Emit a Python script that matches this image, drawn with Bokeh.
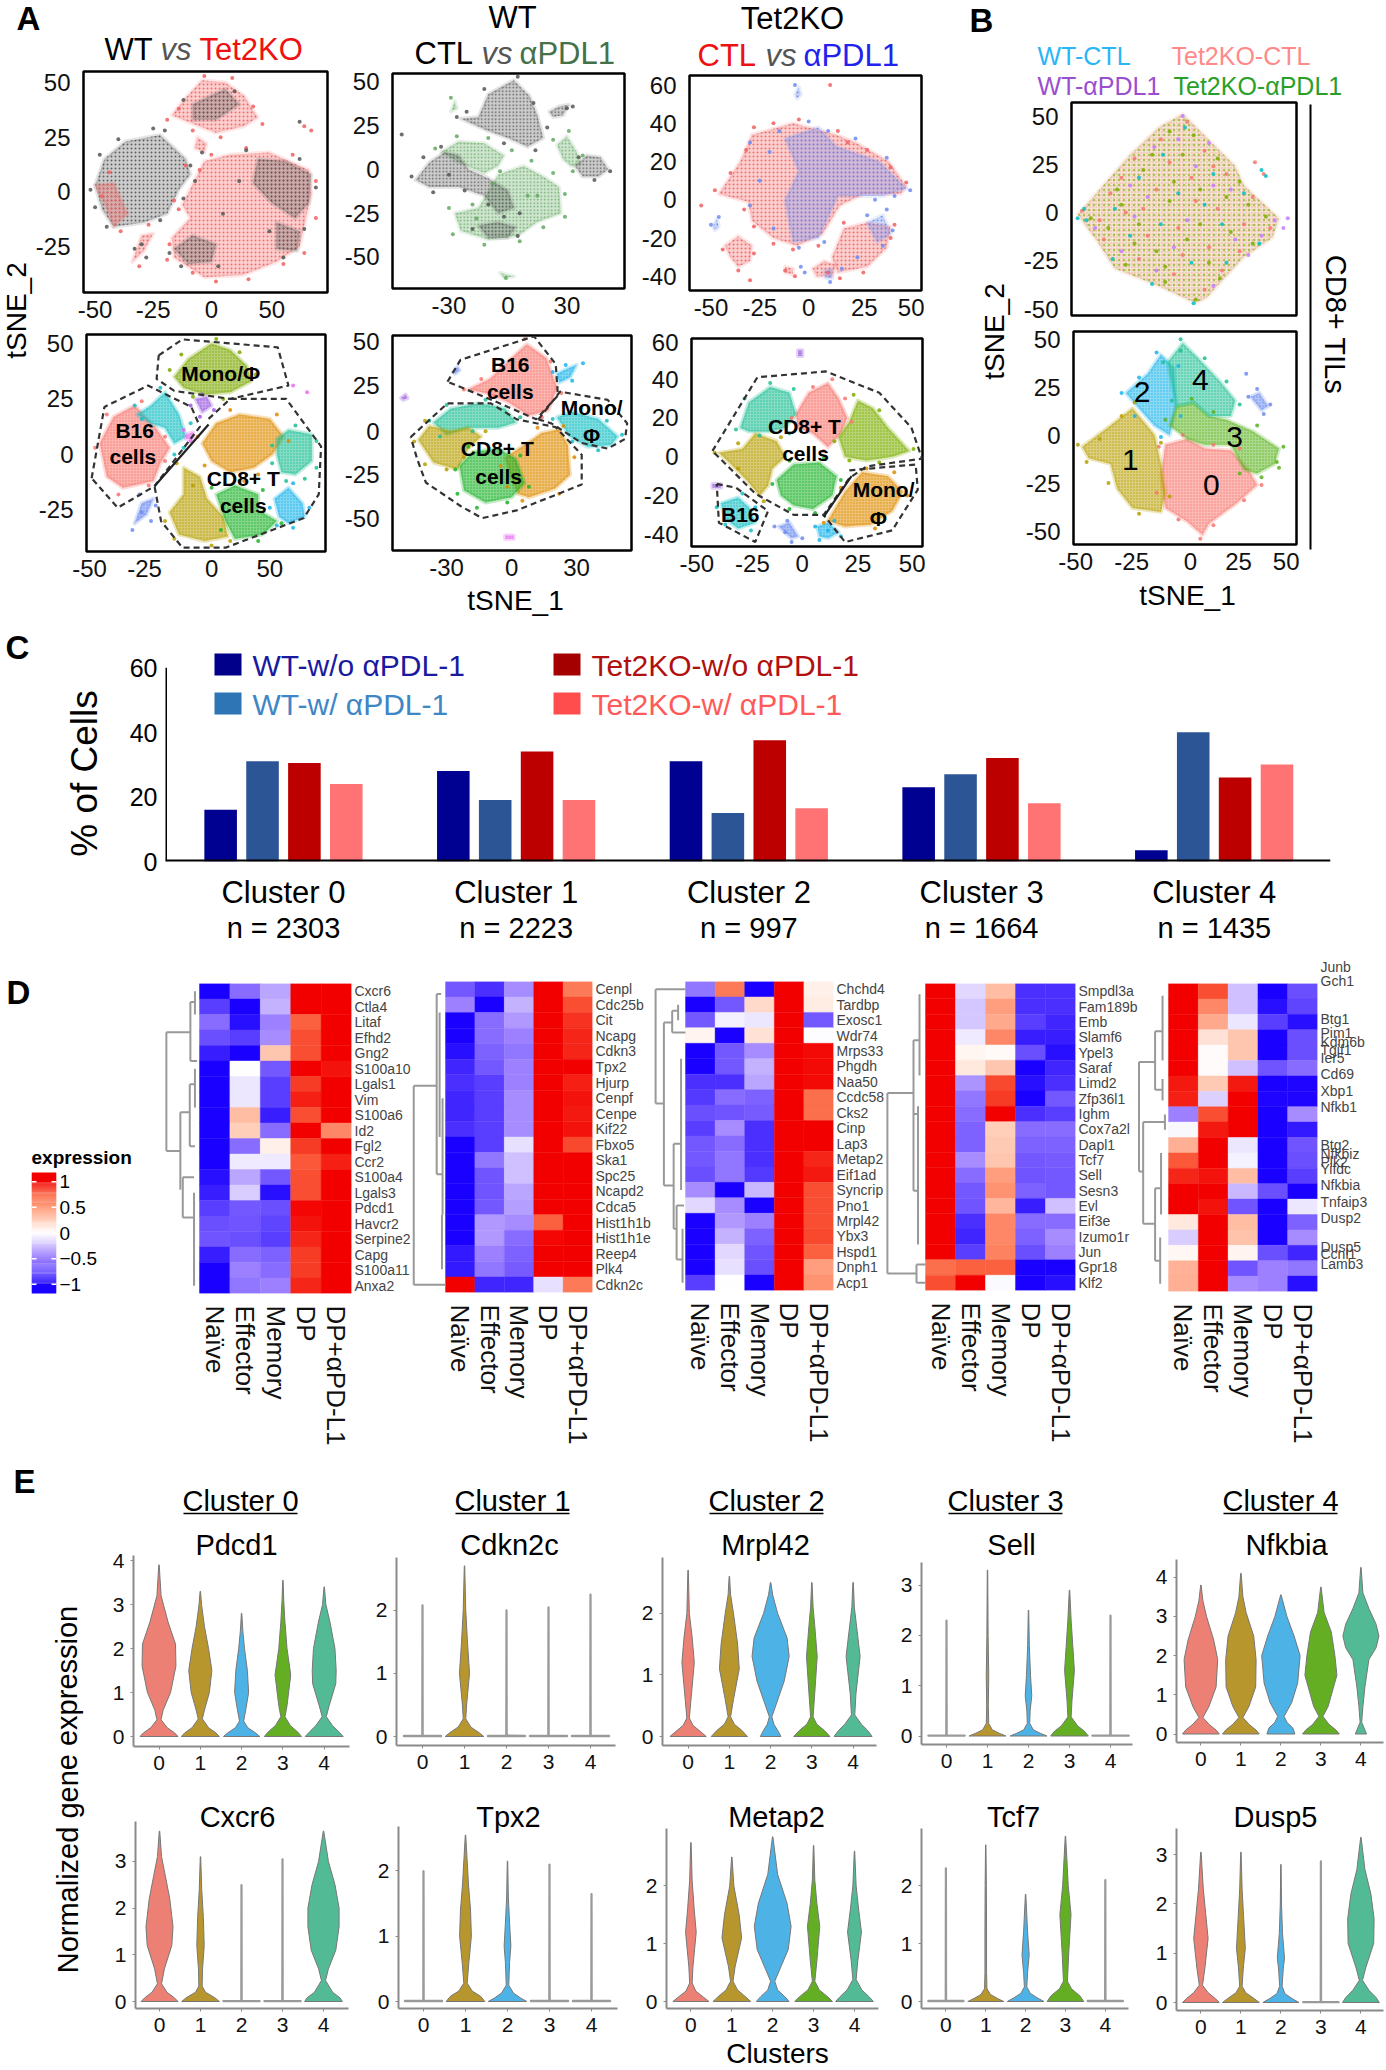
from bokeh.plotting import figure
from bokeh.models import Range1d, FixedTicker, LinearColorMapper, Column
from bokeh.core.properties import value
from bokeh.transform import transform
from bokeh.embed import file_html
from bokeh.resources import INLINE

FONT = "Liberation Sans"

# ---------- Panel A/B tSNE regions (tSNE units) ----------
A1_top = [(-17,35),(-11,43),(-4,51),(6,50),(14,44),(20,34),(14,30),(2,27),(-10,32)]
A1_left = [(-50,3),(-46,15),(-37,23),(-22,26),(-11,15),(-9,8),(-14,1),(-19,-10),(-29,-14),(-42,-16),(-47,-8)]
A1_main = [(-12.5,-6),(-3,14),(8,17),(25,18),(42,10),(43,-1),(38,-25),(28,-32),(13.6,-38),(-3,-39),(-16,-30),(-17,-21),(-9,-12)]
A1_g1 = [(20,15),(32,14),(43,8),(42,-5),(36,-12),(26,-5),(18,4)]
A1_g2 = [(-16,-26),(-8,-20),(2,-24),(0,-32),(-10,-33)]
A1_g3 = [(28,-14),(38,-18),(37,-27),(28,-26)]
A1_g4 = [(-8,40),(6,47),(12,40),(2,33),(-8,33)]
A1_r1 = [(-34,-32),(-30,-20),(-25,-19),(-29,-27)]
A1_r2 = [(-6,25),(-2,22),(-3,18),(-7,20)]
A1_r3 = [(-50,3),(-46,-5),(-42,-16),(-36,-10),(-42,4)]
A1_pts_red = [(-14,38),(-19,33),(-3,53),(9,52),(18,39),(22,31),(4,25),(-8,28),(-14,-8),(-18,-24),(-19,-31),(-8,-37),(2,-41),(16,-40),(31,-33),(40,-28),(45,-12),(45,5),(35,17),(15,20),(0,17),(-5,10),(-47,-2),(-44,9),(-39,-18),(-31,-34),(-27,-15),(-16,-4),(40,30),(43,28),(-11,12)]
A1_pts_grey = [(-52,1),(-48,17),(-40,24),(-25,29),(-20,28),(-9,12),(-7,5),(-12,-3),(-22,-13),(-45,-16),(-50,-7),(-33,-26),(-28,-30),(-30,-24),(-4,18),(15,19),(38,15),(45,2),(40,-17),(31,-30),(-13,-34),(-18,-28),(3,-34),(-12,42),(10,46),(38,32),(5,-10),(12,5),(25,-18)]

A2_b1 = [(-24,29),(-15,30),(-10,43),(3,51),(11,42),(15,31),(18,18),(10,13),(0,18),(-10,22),(-18,26)]
A2_g1 = [(-5,-3),(8,2),(18,-4),(26,-10),(27,-25),(15,-30),(5,-38),(-10,-40),(-24,-35),(-27,-25),(-15,-22)]
A2_g2 = [(-34,10),(-25,16),(-12,15),(-2,8),(-5,2),(-12,-2),(-25,4)]
A2_b2 = [(-47,-6),(-40,4),(-32,10),(-25,8),(-20,0),(-10,-5),(0,-12),(3,-22),(-5,-25),(-12,-15),(-25,-10),(-40,-10)]
A2_b3 = [(-15,-32),(-5,-30),(4,-33),(0,-39),(-10,-39)]
A2_g3 = [(25,14),(30,19),(35,10),(37,3),(32,2),(28,6)]
A2_b4 = [(34,2),(40,8),(47,7),(51,0),(46,-4),(38,-4)]
A2_b5 = [(21,33),(26,36),(31,37),(28,31),(23,30)]
A2_g4 = [(-29,33),(-27,39),(-26,35)]
A2_g5 = [(-4,-59),(-1,-60),(3,-61),(-2,-62)]
A2_pts_grey = [(-26,30),(-21,33),(-12,46),(5,53),(13,38),(20,24),(14,11),(-2,15),(30,35),(33,36),(-49,-4),(-43,7),(-34,13),(-22,-12),(-38,-13),(-2,-27),(6,-25),(-18,-34),(5,-38),(36,7),(52,-1),(44,-6),(-54,20),(-10,-20),(-30,-3)]
A2_pts_green = [(-37,12),(-26,19),(-10,18),(2,11),(-4,-1),(12,5),(23,-2),(29,-14),(29,-27),(18,-33),(6,-41),(-12,-43),(-28,-37),(-30,-22),(-18,-20),(23,17),(31,22),(38,8),(33,-1),(10,-15),(-8,-8),(-29,41),(-1,-62),(-16,-28),(15,-15)]

A3_main = [(-46,3),(-35,20),(-29,34),(-8,40),(14,34),(24,30),(41,20),(50,7),(47,3),(28,3),(16,-3),(7,-18),(-6,-24),(-18,-20),(-29,-11),(-31,-1)]
A3_b1 = [(-12,32),(5,38),(14,28),(36,20),(50,6),(38,2),(15,2),(5,-20),(-8,-22),(-12,0),(-5,15)]
A3_r1 = [(12,-30),(18,-15),(30,-12),(42,-14),(40,-25),(30,-35),(15,-38)]
A3_b2 = [(30,-12),(38,-8),(42,-18),(35,-22)]
A3_r2 = [(-43,-24),(-36,-19),(-29,-24),(-30,-32),(-36,-35),(-40,-30)]
A3_r3 = [(2,-36),(8,-32),(14,-34),(12,-40),(4,-40)]
A3_b3 = [(8,-37),(12,-36),(12,-41),(9,-41)]
A3_b4 = [(-7,55),(-5,59),(-4,55),(-6,53)]
A3_b5 = [(-49,-14),(-47,-10),(-46,-14),(-48,-16)]
A3_r4 = [(-12,-35),(-8,-36),(-8,-39),(-12,-38)]
A3_pts_red = [(-48,5),(-40,14),(-32,26),(-28,38),(-18,40),(-5,42),(15,36),(-33,-5),(-28,-14),(-18,-23),(-8,-26),(5,-24),(20,30),(30,26),(42,17),(50,9),(10,-38),(16,-41),(28,-38),(42,-20),(44,-13),(18,-12),(-44,-26),(-36,-37),(-28,-28),(-12,-37),(-7,-40),(11,60),(-55,-3),(-30,-42)]
A3_pts_blue = [(-30,30),(-15,36),(0,41),(10,36),(24,32),(40,22),(52,5),(44,2),(34,0),(-25,10),(-30,-3),(-18,-15),(-5,-25),(8,-22),(-20,25),(30,-8),(40,-5),(43,-16),(38,-24),(25,-30),(17,-36),(11,-43),(-7,60),(-50,-13),(-46,-9),(-2,-38),(-4,-35)]

A4_mono = [(-16,35),(-10,43),(0,50),(8,47),(15,40),(17,33),(8,28),(-3,27),(-12,30)]
A4_b16 = [(-48,5),(-42,17),(-33,22),(-24,12),(-18,3),(-22,-4),(-25,-12),(-38,-15),(-45,-10)]
A4_teal = [(-26,22),(-20,28),(-14,18),(-11,8),(-16,5),(-20,12),(-26,14),(-32,18)]
A4_orange = [(-4,5),(2,14),(12,18),(25,16),(31,8),(26,0),(18,-6),(8,-8),(0,-3)]
A4_tgreen = [(28,7),(33,11),(43,9),(43,-3),(36,-9),(30,-8),(28,0)]
A4_gold = [(-12,-6),(-5,-10),(-2,-20),(5,-28),(7,-37),(-3,-39),(-14,-36),(-18,-26),(-12,-18)]
A4_green = [(2,-18),(10,-14),(20,-18),(20,-25),(28,-30),(22,-36),(10,-38),(6,-30)]
A4_blue = [(27,-20),(33,-15),(39,-22),(40,-28),(33,-31),(29,-28)]
A4_peri = [(-33,-31),(-30,-22),(-25,-20),(-28,-27)]
A4_purple = [(-7,25),(-2,26),(0,22),(-4,19)]
A4_mag = [(-11,9),(-8,10),(-8,7),(-11,7)]
A4_pts_mono = [(-18,38),(-13,45),(2,52),(12,46),(19,36),(5,25),(-8,26)]
A4_pts_b16 = [(-50,3),(-45,18),(-30,24),(-20,8),(-27,-14),(-40,-18),(-20,-3)]
A4_pts_teal = [(-33,22),(-22,30),(-9,14),(-12,3),(-30,16),(-16,0)]
A4_pts_orange = [(-6,8),(8,20),(28,18),(33,6),(20,-9),(-3,-5),(14,-12)]
A4_pts_tgreen = [(26,4),(36,13),(45,6),(45,-6),(32,-12),(26,-4),(40,-11)]
A4_pts_gold = [(-15,-4),(-20,-30),(-16,-38),(0,-41),(8,-39),(-8,-14)]
A4_pts_green = [(0,-15),(12,-12),(22,-16),(30,-31),(20,-39),(4,-34)]
A4_pts_blue = [(25,-24),(35,-13),(42,-24),(35,-33),(28,-32)]
A4_pts_peri = [(-34,-34),(-31,-18),(-24,-23),(-26,-30),(-30,-26)]
A4_pts_purple = [(-9,22),(-4,27),(1,20),(-5,17)]
A4_pts_mag = [(35,31),(41,28),(-12,11),(-9,6)]
A4_dash_mono = [(-22.7,44.6),(-12.5,51.8),(28.4,48.2),(33,31),(8,25),(-16,28.6),(-23.6,34),(-22.7,44.6)]
A4_dash_b16 = [(-51.5,-10.7),(-46,21.4),(-27.3,31),(-8.7,21.4),(-5,12.5),(-24.5,-14.3),(-40.3,-24),(-51.5,-10.7)]
A4_dash_cd8 = [(-1.3,16),(8,25),(32,25),(47,3.6),(46,-18),(39.6,-28.6),(6,-42),(-12.5,-42),(-21.7,-30),(-24.5,-14.3)]
A4_solid = [(-24.5,-14.3),(-1.3,13.5)]

A5_b16 = [(-20,24),(-10,30),(0,42),(7,50),(16,42),(21,25),(17,12),(8,9),(-2,17),(-12,22)]
A5_blue = [(21,33),(26,36),(30,38),(27,31),(22,28)]
A5_mono = [(21,8),(28,11),(40,7),(49,-3),(46,-8),(35,-9),(27,-3)]
A5_tgreen = [(-36,5),(-28,13),(-15,16),(-3,13),(2,5),(-6,2),(-20,2),(-30,-2)]
A5_gold = [(-43,-5),(-38,3),(-28,0),(-20,2),(-14,-3),(-20,-10),(-25,-22),(-36,-18)]
A5_orange = [(-3,-15),(6,-8),(14,-1),(22,1),(26,-8),(27,-25),(20,-33),(8,-38),(3,-36),(0,-27)]
A5_green = [(-24,-20),(-18,-12),(-6,-10),(2,-16),(6,-30),(0,-38),(-12,-41),(-22,-34)]
A5_pur1 = [(-51,19),(-49,21),(-48,19),(-50,18)]
A5_pur2 = [(-3,-60),(1,-60),(1,-62),(-3,-62)]
A5_pur3 = [(-27,34),(-25,37),(-24,35),(-26,33)]
A5_pts_b16 = [(-22,24),(-14,30),(-5,38),(6,53),(18,40),(23,22),(14,8),(-8,20)]
A5_pts_mono = [(19,7),(32,13),(44,6),(51,-2),(40,-11),(28,-6)]
A5_pts_tgreen = [(-38,6),(-30,15),(-12,18),(4,8),(-18,0),(-33,-3)]
A5_pts_gold = [(-45,-6),(-40,6),(-12,0),(-22,-15),(-30,-22),(-40,-19)]
A5_pts_orange = [(-5,-20),(12,2),(24,3),(29,-15),(22,-36),(5,-40),(-2,-32)]
A5_pts_green = [(-26,-22),(-20,-9),(4,-14),(8,-32),(-2,-41),(-16,-44),(-25,-36)]
A5_pts_blue = [(19,34),(25,38),(33,39),(28,29)]
A5_dash_b16 = [(-29.6,28.4),(-23.6,41),(10.4,54.5),(20.4,38.6),(21.4,20.5),(11.4,6.8),(-9.6,18.2),(-29.6,28.4)]
A5_dash_cd8 = [(-46.6,-3.4),(-29.6,16),(-9.6,16),(2.4,6.8),(20.4,2.3),(32.4,-13.6),(32.4,-30.7),(2.4,-45.5),(-13.6,-50),(-23.6,-43),(-39.6,-29.5),(-43.6,-16),(-46.6,-3.4)]
A5_dash_mono = [(12.4,6.8),(22.4,22.7),(44.4,18),(53.4,4.5),(52.4,-4.5),(44.4,-10),(32.4,-6.8),(18.4,4.5),(12.4,6.8)]

A6_red = [(-3,22),(3,33),(12,38),(17,30),(21,20),(18,12),(12,5),(5,12),(-2,15)]
A6_tgreen = [(-29,15),(-25,28),(-15,36),(-6,33),(-3,22),(-8,15),(-15,13),(-25,13)]
A6_lime = [(17,10),(22,18),(26,29),(33,25),(40,15),(50,3),(42,0),(30,-2),(20,0)]
A6_gold = [(-39,2),(-28,4),(-22,12),(-12,8),(-8,0),(-14,-6),(-16,-15),(-20,-20),(-26,-12),(-34,-3)]
A6_green = [(-12,-12),(-4,-4),(8,-3),(16,-10),(14,-20),(5,-27),(-4,-25),(-10,-20)]
A6_orange = [(12,-33),(20,-18),(28,-8),(40,-10),(47,-18),(42,-28),(32,-35),(20,-36)]
A6_teal = [(-38,-24),(-30,-21),(-25,-26),(-22,-34),(-30,-37),(-36,-32)]
A6_blue = [(7,-36),(12,-34),(17,-39),(12,-42),(8,-41)]
A6_peri = [(-11,-36),(-6,-34),(-2,-41),(-5,-42)]
A6_pur1 = [(-2,55),(0,55),(0,52),(-2,52)]
A6_pur2 = [(-42,-14),(-38,-14),(-38,-16),(-42,-16)]
A6_pts_red = [(-5,20),(5,36),(14,40),(20,30),(23,18),(10,3)]
A6_pts_tgreen = [(-31,14),(-27,30),(-15,38),(-4,35),(-6,12),(-20,11)]
A6_pts_lime = [(15,8),(24,32),(36,24),(52,4),(36,-3),(22,-2)]
A6_pts_gold = [(-41,2),(-30,7),(-10,10),(-6,-2),(-18,-23),(-30,-6)]
A6_pts_green = [(-14,-14),(-6,-2),(10,-1),(18,-12),(6,-29),(-6,-27)]
A6_pts_orange = [(10,-34),(18,-16),(30,-6),(43,-8),(49,-20),(34,-37)]
A6_pts_teal = [(-40,-26),(-28,-19),(-22,-26),(-24,-38),(-36,-35)]
A6_pts_blue = [(6,-36),(15,-33),(18,-41),(8,-43),(12,-38)]
A6_pts_peri = [(-13,-36),(-7,-33),(0,-42),(-5,-44),(-8,-39)]
A6_dash_cd8 = [(-42,3),(-21,41),(11,44),(36,33),(51,15),(56,-1),(30,-5),(22,-11),(10,-30),(-4,-30),(-22,-19),(-42,3)]
A6_dash_mono = [(22,-7),(53,-4),(54,-17),(42,-38),(20,-44),(10,-30)]
A6_dash_b16 = [(-40,-14),(-31,-16),(-16,-28),(-22,-44),(-39,-34),(-40,-14)]
A6_solid = [(10,-31),(23,-10)]

B1_all = [(-50,-1),(-26,30),(-13,44),(-2,51),(7,41),(22,24),(26,14),(42,-3),(39,-13),(26,-23),(9,-44),(4,-47),(-13,-38),(-33,-29),(-41,-15)]
B1_pts_pink = [(-48,1),(-35,10),(-24,28),(-12,38),(0,47),(8,32),(18,20),(30,8),(38,-8),(24,-20),(8,-40),(-6,-32),(-22,-24),(-38,-14),(-28,0),(-14,12),(2,18),(14,2),(-4,-8),(-18,-12),(10,-18),(26,-6),(-30,18),(-8,26),(-2,-22),(16,-30),(-40,-4),(4,6),(-20,2),(12,24),(31,26),(35,20)]
B1_pts_green = [(-44,-3),(-30,4),(-20,22),(-8,42),(3,40),(14,28),(24,16),(36,-2),(30,-16),(15,-34),(4,-45),(-10,-36),(-28,-27),(-36,-8),(-22,-6),(-8,6),(6,12),(20,-10),(0,-14),(-14,-20),(-6,16),(10,-26),(-32,12),(18,8),(-16,30),(-24,-16),(6,-6),(-2,30),(28,4),(-10,-28)]
B1_pts_purple = [(-42,-8),(-26,14),(-15,34),(-2,50),(10,36),(20,12),(40,-4),(28,-22),(12,-38),(-14,-30),(-30,-20),(-18,8),(0,-4),(12,14),(-6,-18),(4,24),(22,-14),(-24,-2),(-4,38),(34,-12),(44,-8),(46,-3)]
B1_pts_teal = [(-50,-3),(-47,2),(-46,-4),(-33,2),(-22,18),(-11,30),(-1,44),(12,20),(26,10),(33,-16),(18,-26),(3,-47),(-16,-37),(-34,-24),(-12,-6),(2,-26),(8,4),(-26,-12),(16,-6),(-4,10),(34,22),(36,19)]

B2_0 = [(-10,-5),(0,-2),(8,-7),(20,-8),(28,-18),(32,-26),(22,-36),(10,-46),(7,-52),(0,-45),(-10,-38),(-12,-22)]
B2_1 = [(-48,-6),(-35,5),(-25,14),(-15,0),(-12,-15),(-10,-30),(-12,-40),(-25,-38),(-32,-28),(-35,-15),(-45,-12)]
B2_2 = [(-28,22),(-18,32),(-12,42),(-6,35),(-5,15),(-8,0),(-15,5),(-22,14)]
B2_3 = [(-8,5),(-5,15),(3,17),(10,10),(18,8),(30,2),(42,-7),(40,-15),(32,-20),(26,-18),(20,-5),(8,-5),(0,-2)]
B2_4 = [(-9,38),(-2,48),(5,40),(15,28),(22,18),(20,10),(10,10),(3,17),(-5,15)]
B2_pur = [(29,20),(33,22),(37,15),(34,13)]
B2_pts_0 = [(-13,-6),(-2,0),(12,-5),(24,-7),(34,-26),(26,-34),(12,-47),(6,-54),(-4,-44),(-14,-30)]
B2_pts_1 = [(-50,-5),(-40,-2),(-30,10),(-24,17),(-12,-4),(-8,-32),(-22,-41),(-36,-25),(-46,-14)]
B2_pts_2 = [(-30,22),(-22,30),(-14,43),(-4,36),(-3,10),(-12,-1),(-24,10)]
B2_pts_3 = [(-10,8),(2,19),(12,12),(32,5),(44,-6),(42,-17),(34,-22),(24,-20),(41,-14)]
B2_pts_4 = [(-11,38),(-3,50),(-3,44),(8,40),(18,28),(24,16),(-7,18)]
B2_pts_pur = [(28,20),(32,24),(38,16),(35,11),(27,32)]

# ---------- Panel C ----------
clusters = ["Cluster 0", "Cluster 1", "Cluster 2", "Cluster 3", "Cluster 4"]
cluster_n = ["n = 2303", "n = 2223", "n = 997", "n = 1664", "n = 1435"]
wt_wo = [16, 28, 31, 23, 3.5]
wt_w = [31, 19, 15, 27, 40]
ko_wo = [30.5, 34, 37.5, 32, 26]
ko_w = [24, 19, 16.5, 18, 30]

# ---------- Panel D ----------
conditions = ["Naïve", "Effector", "Memory", "DP", "DP+αPD-L1"]
D1_genes = ["Cxcr6","Ctla4","Litaf","Efhd2","Gng2","S100a10","Lgals1","Vim","S100a6","Id2","Fgl2","Ccr2","S100a4","Lgals3","Pdcd1","Havcr2","Serpine2","Capg","S100a11","Anxa2"]
D1_vals = [[-1,-.6,-.35,1,1],[-.8,-1,-.3,1,1],[-.6,-.95,-.5,.75,1],[-.75,-.8,-.45,.8,1],[-.9,-1,.3,.8,1],[-1,0,-.7,1,.95],[-1,-.1,-.8,.85,1],[-1,-.1,-.8,.92,1],[-1,.35,-.9,.8,1],[-1,.25,-.6,1,.6],[-1,-.6,.08,.85,1],[-1,-.08,-.08,.78,.92],[-.95,-.35,-.7,.8,1],[-.9,-.2,-.95,.8,1],[-.8,-.7,-.75,.98,1],[-.75,-.72,-.78,.95,1],[-.72,-.75,-.8,.9,1],[-.9,-.6,-.65,.85,1],[-1,-.5,-.6,.85,1],[-1,-.55,-.5,.9,1]]
D2_genes = ["Cenpl","Cdc25b","Cit","Ncapg","Cdkn3","Tpx2","Hjurp","Cenpf","Cenpe","Kif22","Fbxo5","Ska1","Spc25","Ncapd2","Cdca5","Hist1h1b","Hist1h1e","Reep4","Plk4","Cdkn2c"]
D2_vals = [[-.7,-.85,-.45,1,.65],[-.5,-1,-.3,1,.8],[-1,-.6,-.4,1,.87],[-1,-.6,-.5,1,.9],[-.95,-.65,-.55,1,.9],[-.88,-.7,-.5,1,1],[-.85,-.8,-.5,1,.92],[-.88,-.8,-.45,1,.95],[-.88,-.8,-.45,1,.93],[-.85,-.8,-.45,1,.95],[-1,-.8,-.12,1,.82],[-1,-.55,-.25,1,1],[-1,-.72,-.25,1,1],[-1,-.72,-.35,1,1],[-1,-.7,-.38,1,1],[-1,-.4,-.45,.75,1],[-1,-.4,-.6,.98,1],[-.92,-.5,-.65,1,1],[-.92,-.55,-.68,1,1],[1,-.88,-.88,-.12,.65]]
D3_genes = ["Chchd4","Tardbp","Exosc1","Wdr74","Mrps33","Phgdh","Naa50","Ccdc58","Cks2","Cinp","Lap3","Metap2","Eif1ad","Syncrip","Pno1","Mrpl42","Ybx3","Hspd1","Dnph1","Acp1"]
D3_vals = [[-.55,.65,-1,1,.08],[-1,-.7,.2,1,.1],[-.7,-.06,-.1,1,-.7],[.06,-1,.15,1,-.01],[-1,-.7,-.45,1,.97],[-1,-.7,-.3,1,.97],[-.85,-.85,-.35,1,.97],[-.82,-.6,-.65,1,.7],[-.75,-.72,-.68,1,.7],[-.8,-.45,-.85,1,1],[-.7,-.6,-.85,1,1],[-.7,-.55,-.85,1,.9],[-.75,-.55,-.82,1,.93],[-.45,-1,-.28,1,.8],[-.15,-.45,-1,1,.8],[-1,-.4,-.5,1,.8],[-1,-.3,-.65,1,.82],[-1,-.15,-.72,1,.75],[-1,-.12,-.75,1,.5],[-.8,0,-1,1,.55]]
D4_genes = ["Smpdl3a","Fam189b","Emb","Slamf6","Ypel3","Saraf","Limd2","Zfp36l1","Ighm","Cox7a2l","Dapl1","Tcf7","Sell","Sesn3","Evl","Eif3e","Izumo1r","Jun","Gpr18","Klf2"]
D4_vals = [[1,-.15,.35,-.85,-.85],[1,-.22,.5,-.85,-.85],[1,-.22,.45,-.8,-.88],[1,-.08,.6,-.9,-.9],[1,.05,.03,-.75,-.95],[1,.12,.3,-1,-.88],[1,-.42,.82,-.95,-.85],[1,-.55,.85,-1,-.7],[1,-.6,1,-.85,-.8],[1,-.65,.25,-.6,-.6],[1,-.65,.28,-.65,-.65],[1,-.45,.3,-.7,-.68],[1,-.6,.5,-.72,-.7],[1,-.7,.55,-.65,-.7],[1,-.72,.38,-.9,-.25],[1,-.85,.6,-.6,-.6],[1,-.88,.6,-.65,-.45],[1,-.8,.62,-.75,-.5],[.7,.75,.75,-1,-1],[.8,1,-.02,-1,-.95]]
D5_genes = ["Junb","Gch1","Btg1","Pim1","Kdm6b","Tgif1","Ier5","Cd69","Xbp1","Nfkb1","Btg2","Nfkbiz","Plk2","Yifdc","Nfkbia","Tnfaip3","Dusp2","Dusp5","Ccnl1","Lamb3"]
D5_gene_rows = [-1.06,-.15,2.3,3.2,3.77,4.3,4.83,5.87,6.95,8.03,10.5,11.1,11.6,12.03,13.1,14.2,15.2,17.1,17.55,18.2]
D5_vals = [[1,.8,-.25,-1,-.75],[1,.6,-.25,-.95,-.78],[1,.45,-.1,-.8,-.95],[1,.15,.3,-1,-.75],[1,.02,.3,-1,-.75],[1,.02,-.25,-.72,-.6],[.93,.28,.93,-1,-.98],[.92,-.18,1,-.98,-.98],[-.5,.8,1,-1,-.45],[-.03,.93,1,-1,-.92],[.42,1,-.1,-1,-.72],[.78,1,-.05,-1,-.75],[.9,.95,.35,-1,-.8],[1,1,-.28,-.75,-1],[1,.95,-.72,-1,-.1],[.12,1,.35,-1,-.65],[-.2,1,.32,-1,-.45],[.04,1,.06,-.75,-.88],[.4,1,-.72,-.5,-.55],[.42,1,-.45,-.5,-.95]]

D1_tree = [[-1.09,3.15,-1.09,10.8],[-1.09,3.15,-.3,3.15],[-.3,1.2,-.3,5],[-.3,1.2,-.15,1.2],[-.15,.5,-.15,2],[-.3,5,-.08,5],[-1.09,10.8,-.63,10.8],[-.63,8.3,-.63,13.3],[-.63,8.3,-.32,8.3],[-.32,6.5,-.32,10.5],[-.32,6.5,-.15,6.5],[-.15,5.5,-.15,8],[-.32,10.5,-.15,10.5],[-.55,12.5,-.55,15.1],[-.55,15.1,-.18,15.1],[-.18,13.5,-.18,19.5],[-.55,12.5,-.18,12.5]]
D2_tree = [[-1.08,6.7,-1.08,19.5],[-1.08,6.7,-.3,6.7],[-1.08,19.5,0,19.5],[-.3,.8,-.3,12.4],[-.3,.8,-.15,.8],[-.3,12.4,-.1,12.4],[-.1,7.5,-.1,15],[-.12,15,-.12,18.5],[-.2,2,-.2,10]]
D3_tree = [[-1.01,.5,0,.5],[-1.01,.5,-1.01,7.9],[-1.01,7.9,-.73,7.9],[-.73,2.65,-.73,13.2],[-.73,2.65,-.45,2.65],[-.45,1.9,-.45,3.3],[-.45,1.9,-.25,1.9],[-.25,1.5,-.25,2.5],[-.45,3.3,0,3.3],[-.73,13.2,-.4,13.2],[-.4,10.5,-.4,16],[-.4,10.5,-.15,10.5],[-.15,5,-.15,13.5],[-.4,16,-.3,16],[-.3,14.5,-.3,18],[-.3,14.5,-.05,14.5],[-.3,18,-.1,18],[-.1,16,-.1,19.5]]
D4_tree = [[-1.27,7.14,-1.27,18.9],[-1.27,7.14,-.4,7.14],[-1.27,18.9,-.3,18.9],[-.3,18.3,-.3,19.5],[-.3,18.3,0,18.3],[-.3,19.5,0,19.5],[-.4,3.7,-.4,13.5],[-.4,3.7,-.2,3.7],[-.2,.7,-.2,6],[-.4,13.5,-.25,13.5],[-.25,8,-.25,17],[-.4,8.5,-.25,8.5]]
D5_tree = [[-.99,5.09,-.99,12.2],[-.99,5.09,-.45,5.09],[-.45,3.1,-.45,6.9],[-.45,3.1,-.2,3.1],[-.2,.8,-.2,5],[-.45,6.9,-.2,6.9],[-.2,6.2,-.2,7.6],[-.99,12.2,-.85,12.2],[-.85,9,-.85,15.6],[-.85,9,-.12,9],[-.12,8.5,-.12,9.5],[-.85,15.6,-.45,15.6],[-.45,13.3,-.45,18],[-.45,13.3,-.25,13.3],[-.25,11,-.25,15],[-.45,18,-.28,18],[-.28,16.5,-.28,19.5]]

# ---------- Panel E: violin profiles as (expression, half width) ----------
F = lambda top: [(0,.45),(.015,.45),(.02,.012),(top,.008)]
Pdcd1 = [[(0,.46),(.08,.38),(.2,.2),(.38,.05),(.6,.1),(1,.28),(1.6,.41),(2.1,.4),(2.6,.22),(3.2,.05),(3.9,.005)],
 [(0,.46),(.08,.38),(.2,.2),(.4,.05),(.6,.1),(1,.22),(1.5,.28),(2,.2),(2.5,.1),(3,.03),(3.3,.005)],
 [(0,.44),(.08,.34),(.2,.15),(.35,.05),(.6,.1),(1,.17),(1.5,.14),(2,.07),(2.4,.03),(2.8,.005)],
 [(0,.45),(.1,.36),(.25,.18),(.45,.05),(.7,.1),(1.4,.19),(2,.1),(2.6,.05),(3.1,.02),(3.55,.005)],
 [(0,.46),(.1,.36),(.25,.2),(.45,.05),(.7,.12),(1.2,.28),(1.5,.29),(2,.26),(2.6,.14),(3,.04),(3.4,.005)]]
Cdkn2c = [F(2.08),[(0,.46),(.06,.35),(.15,.15),(.28,.03),(.5,.05),(1,.12),(1.5,.07),(2,.03),(2.7,.005)],F(2),F(2.05),F(2.25)]
Mrpl42 = [[(0,.44),(.08,.3),(.18,.12),(.3,.03),(.6,.07),(1.2,.15),(1.6,.1),(2,.03),(2.7,.005)],
 [(0,.44),(.1,.3),(.2,.12),(.32,.03),(.6,.1),(1.1,.24),(1.5,.2),(2,.1),(2.3,.03),(2.6,.005)],
 [(0,.25),(.1,.17),(.2,.08),(.32,.03),(.55,.15),(.9,.33),(1.3,.45),(1.6,.4),(2,.17),(2.3,.05),(2.5,.005)],
 [(0,.44),(.1,.3),(.2,.12),(.32,.03),(.7,.07),(1.3,.13),(1.8,.07),(2.1,.03),(2.5,.005)],
 [(0,.46),(.1,.35),(.2,.2),(.35,.04),(.7,.07),(1.3,.17),(1.7,.1),(2.1,.03),(2.5,.005)]]
Sell = [F(2.3),[(0,.45),(.05,.3),(.12,.12),(.25,.03),(.6,.02),(1.2,.03),(2,.015),(3.3,.005)],
 [(0,.45),(.05,.3),(.12,.12),(.25,.03),(.5,.04),(.8,.08),(1.2,.05),(1.8,.02),(2.5,.005)],
 [(0,.46),(.1,.36),(.2,.2),(.38,.04),(.7,.06),(1.3,.12),(1.8,.08),(2.3,.04),(2.9,.005)],F(2.4)]
Nfkbia = [[(0,.46),(.1,.38),(.25,.2),(.42,.05),(.7,.2),(1.2,.38),(1.9,.42),(2.4,.32),(3,.14),(3.4,.05),(3.8,.005)],
 [(0,.46),(.1,.38),(.25,.2),(.42,.05),(.7,.2),(1.2,.37),(1.9,.38),(2.5,.32),(3.1,.13),(3.5,.05),(4.1,.005)],
 [(0,.35),(.15,.3),(.3,.15),(.45,.08),(.8,.27),(1.3,.42),(2,.48),(2.5,.33),(3,.15),(3.55,.005)],
 [(0,.46),(.1,.38),(.25,.2),(.45,.05),(.7,.18),(1.5,.4),(2,.35),(2.6,.26),(3.1,.08),(3.75,.005)],
 [(0,.14),(.1,.1),(.3,.02),(.7,.05),(1.2,.1),(1.9,.2),(2.2,.38),(2.5,.45),(2.8,.38),(3.2,.2),(3.6,.05),(4.25,.005)]]
Cxcr6 = [[(0,.45),(.08,.36),(.2,.18),(.38,.05),(.7,.12),(1.2,.3),(1.6,.33),(2.2,.25),(2.7,.14),(3.1,.05),(3.65,.005)],
 [(0,.46),(.08,.35),(.2,.12),(.33,.04),(.7,.05),(1.2,.09),(1.8,.07),(2.4,.03),(3.1,.005)],F(2.5),F(3.05),
 [(0,.46),(.08,.4),(.2,.22),(.45,.05),(.7,.12),(1.1,.3),(1.6,.38),(2,.38),(2.5,.28),(3,.12),(3.65,.005)]]
Tpx2 = [F(2),[(0,.46),(.08,.36),(.16,.16),(.28,.04),(.6,.08),(1,.14),(1.4,.12),(1.8,.07),(2.55,.005)],
 [(0,.46),(.05,.32),(.13,.14),(.25,.03),(.6,.05),(.85,.08),(1.2,.05),(1.6,.02),(2.15,.005)],F(2.1),F(1.65)]
Metap2 = [[(0,.44),(.08,.3),(.18,.12),(.32,.03),(.6,.05),(1.2,.13),(1.6,.08),(2.1,.03),(2.75,.005)],
 [(0,.46),(.08,.34),(.2,.14),(.35,.03),(.6,.08),(1.1,.24),(1.5,.18),(2,.05),(2.5,.005)],
 [(0,.4),(.08,.3),(.2,.12),(.35,.05),(.6,.2),(.9,.38),(1.3,.45),(1.7,.35),(2.2,.12),(2.85,.005)],
 [(0,.46),(.08,.35),(.2,.14),(.35,.03),(.7,.08),(1.3,.15),(1.7,.08),(2.1,.03),(2.7,.005)],
 [(0,.46),(.08,.36),(.2,.18),(.38,.04),(.7,.08),(1.2,.17),(1.6,.1),(2,.04),(2.6,.005)]]
Tcf7 = [F(2.3),[(0,.45),(.05,.3),(.12,.12),(.22,.03),(.5,.02),(1.2,.02),(2,.015),(2.7,.005)],
 [(0,.46),(.06,.3),(.14,.12),(.25,.03),(.5,.05),(.8,.09),(1.2,.05),(1.85,.005)],
 [(0,.46),(.1,.36),(.22,.15),(.35,.05),(.8,.08),(1.5,.14),(2,.07),(2.85,.005)],F(2.1)]
Dusp5 = [[(0,.46),(.08,.36),(.2,.18),(.35,.04),(.7,.1),(1.3,.18),(1.8,.12),(2.3,.06),(3.05,.005)],
 [(0,.46),(.08,.33),(.2,.12),(.33,.03),(.7,.06),(1.1,.11),(1.7,.07),(2.3,.03),(3.05,.005)],
 [(0,.45),(.08,.28),(.18,.1),(.33,.03),(.7,.06),(.9,.09),(1.4,.04),(2,.015),(2.8,.005)],F(2.87),
 [(0,.46),(.1,.38),(.25,.2),(.45,.04),(.7,.12),(1.2,.32),(1.7,.33),(2.2,.25),(2.7,.1),(3.35,.005)]]

# ---------- colours ----------
C_RED, C_GRY, C_GRN, C_BLU = "#F25F5F", "#555555", "#63A863", "#6C8CF0"
S_SAL, S_GOLD, S_BLUE, S_LIME, S_TG = "#F8766D", "#B79F00", "#19B4EA", "#5AB31E", "#1FBF95"
S_OLV, S_ORG, S_TEAL, S_GRN, S_PERI, S_PUR, S_MAG = "#7CA800", "#DE8C00", "#14BFC4", "#1DB32A", "#6C8CF0", "#9A5AE0", "#E76BF3"
VIOL = ["#EC8074", "#B8962E", "#4DB3E6", "#63AE22", "#52BB96"]

children = []
BL, BR = 70, 3   # every figure in the column gets the same side borders

def place(fig, left, top):
    fig.styles = {"position": "absolute", "left": f"{left}px", "top": f"{top}px"}
    children.append(fig)

def clean(p):
    p.background_fill_color = None
    p.border_fill_color = None
    p.grid.visible = False
    return p

def fig(fl, fr, ft, fb, xr, yr, bt, bb, **kw):
    fw, fh = int(round(fr-fl)), int(round(fb-ft))
    p = clean(figure(width=fw+BL+BR, height=fh+bt+bb, frame_width=fw, frame_height=fh,
                     x_range=Range1d(*xr), y_range=Range1d(*yr), toolbar_location=None, output_backend="svg",
                     min_border_left=BL, min_border_right=BR, min_border_top=bt, min_border_bottom=bb, **kw))
    place(p, fl-BL, ft-bt)
    return p

# ---------- two page layers for free texts (left and right part of the page) ----------
page_l = fig(0, 1297, 0, 2054, (0, 1297), (2054, 0), 0, 0, x_axis_location=None, y_axis_location=None)
page_r = fig(86, 1383, 0, 2054, (86, 1383), (2054, 0), 0, 0, x_axis_location=None, y_axis_location=None)
page_l.outline_line_color = None
page_r.outline_line_color = None

def layer(x):
    return page_l if x < 700 else page_r

def T(s, x, y, size, color="black", align="center", style="normal", angle=0, base="middle", font=FONT):
    layer(x).text([x], [y], text=[s], text_font=value(font), text_font_size=f"{size}px", text_color=color,
                  text_align=align, text_baseline=base, text_font_style=style, angle=angle)

for s, x, y in [("A", 28, 18), ("B", 981, 20), ("C", 17, 647), ("D", 18, 992), ("E", 24, 1481)]:
    T(s, x, y, 33, style="bold")

T("WT", 104, 49, 31, align="left"); T("vs", 160, 49, 31, color="#555555", align="left", style="italic"); T("Tet2KO", 199, 49, 31, color="#EE1111", align="left")
T("WT", 512, 17, 31)
T("CTL", 414, 53, 31, align="left"); T("vs", 481, 53, 31, color="#555555", align="left", style="italic"); T("αPDL1", 519, 53, 31, color="#44704A", align="left")
T("Tet2KO", 792, 18, 31)
T("CTL", 697, 55, 31, color="#EE1111", align="left"); T("vs", 765, 55, 31, color="#555555", align="left", style="italic"); T("αPDL1", 803, 55, 31, color="#2222EE", align="left")
T("WT-CTL", 1037, 55, 25, color="#29B6F6", align="left"); T("Tet2KO-CTL", 1171, 55, 25, color="#FF8A8A", align="left")
T("WT-αPDL1", 1037, 85, 25, color="#9A4FD0", align="left"); T("Tet2KO-αPDL1", 1173, 85, 25, color="#2AA02A", align="left")
T("tSNE_2", 16, 310, 28, angle=1.5708); T("tSNE_2", 994, 331, 28, angle=1.5708)
T("tSNE_1", 515, 600, 28); T("tSNE_1", 1187, 595, 28)
T("CD8+ TILs", 1335, 324, 29, angle=-1.5708)
page_r.segment([1310], [104], [1310], [549], line_color="black", line_width=2)

leg_x = [214, 214, 553, 553]
leg_y = [653, 692, 653, 692]
leg_c = ["#00008B", "#2E75B6", "#A50000", "#FF4D4D"]
leg_t = ["WT-w/o αPDL-1", "WT-w/ αPDL-1", "Tet2KO-w/o αPDL-1", "Tet2KO-w/ αPDL-1"]
leg_tc = ["#1A1AA0", "#3E86C6", "#B01010", "#FF5A5A"]
for x, y, c, t, tc in zip(leg_x, leg_y, leg_c, leg_t, leg_tc):
    page_l.quad(left=[x], right=[x+27], top=[y], bottom=[y+22], fill_color=c, line_color=None)
    T(t, x+38, y+12, 30, color=tc, align="left")
T("% of Cells", 84, 773, 37, angle=1.5708)
for i, (c, n) in enumerate(zip(clusters, cluster_n)):
    T(c, 283+232.7*i, 892, 31); T(n, 283+232.7*i, 927, 29)

T("expression", 31, 1157, 19, style="bold", align="left")

T("Normalized  gene expression", 67, 1785, 29, angle=1.5708)
for c, x in zip(clusters, [240, 512, 766, 1005, 1280]):
    T(c, x, 1500, 29)
    layer(x).segment([x-57], [1513], [x+57], [1513], line_color="black", line_width=1.5)
for s, x, y in [("Pdcd1",236,1544),("Cdkn2c",509,1544),("Mrpl42",765,1544),("Sell",1011,1544),("Nfkbia",1286,1544),
                ("Cxcr6",237,1816),("Tpx2",508,1816),("Metap2",776,1816),("Tcf7",1013,1816),("Dusp5",1275,1816)]:
    T(s, x, y, 29)

# bottom label sits below the page layers
foot = fig(700, 860, 2038, 2068, (700, 860), (2068, 2038), 0, 0, x_axis_location=None, y_axis_location=None)
foot.outline_line_color = None
foot.text([777], [2053], text=["Clusters"], text_font=value(FONT), text_font_size="28px", text_align="center", text_baseline="middle")

# ---------- tSNE panels ----------
def tsne(frame, xr, yr, xt, yt, xl=None, yl=None):
    l, r, t, b = frame
    p = fig(l, r, t, b, xr, yr, 5, 45)
    p.outline_line_color = "black"; p.outline_line_width = 2.5
    p.xaxis.ticker = FixedTicker(ticks=xt); p.yaxis.ticker = FixedTicker(ticks=yt)
    p.xaxis.major_label_overrides = xl or {v: str(v) for v in xt}
    p.yaxis.major_label_overrides = yl or {v: str(v) for v in yt}
    p.xaxis.major_label_standoff = 2
    p.yaxis.major_label_standoff = 7
    for a in (p.xaxis, p.yaxis):
        a.axis_line_color = None; a.major_tick_line_color = None; a.minor_tick_line_color = None
        a.major_label_text_font = FONT; a.major_label_text_font_size = "24px"; a.major_label_text_color = "#111111"
    return p

def blob(p, pts, color, scale=4, alpha=.3, halpha=.9):
    p.patches([[a for a, _ in pts]], [[b for _, b in pts]], fill_color=color, fill_alpha=alpha,
              line_color=color, line_alpha=alpha*.5, line_width=4, line_join="round",
              hatch_pattern="dot", hatch_color=color, hatch_scale=scale, hatch_weight=1.0, hatch_alpha=halpha)

def specks(p, pts, color, size=4):
    p.scatter([a for a, _ in pts], [b for _, b in pts], size=size, fill_color=color, fill_alpha=.85, line_color=None)

def dash(p, pts):
    p.line([a for a, _ in pts], [b for _, b in pts], line_color="#333333", line_width=2.2, line_dash="6 4")

def solid(p, pts):
    p.line([a for a, _ in pts], [b for _, b in pts], line_color="#222222", line_width=2.2)

def lab(p, s, x, y, size=21, style="bold"):
    p.text([x], [y], text=[s], text_font=value(FONT), text_font_size=f"{size}px", text_font_style=style,
           text_align="center", text_baseline="middle", text_color="black")

a1 = tsne((83,327,71,292), (-55,50), (-46,55), [-50,-25,0,26], [50,25,0,-25], {-50:"-50",-25:"-25",0:"0",26:"50"})
for s in (A1_top, A1_main, A1_r1, A1_r2): blob(a1, s, C_RED)
for s in (A1_left, A1_g1, A1_g2, A1_g3, A1_g4): blob(a1, s, C_GRY)
blob(a1, A1_r3, C_RED)
specks(a1, A1_pts_red, C_RED); specks(a1, A1_pts_grey, C_GRY)

a2 = tsne((392,624,73,288), (-58.7,59.3), (-68,54.8), [-30,0,30], [50,25,0,-25,-50])
for s in (A2_g1, A2_g2, A2_g3, A2_g4, A2_g5): blob(a2, s, C_GRN, 3.5)
for s in (A2_b1, A2_b2, A2_b3, A2_b4, A2_b5): blob(a2, s, C_GRY, 3.5)
specks(a2, A2_pts_green, C_GRN); specks(a2, A2_pts_grey, C_GRY)

a3 = tsne((689,921,75,290), (-61,57.8), (-47.4,65), [-50,-25,0,28.5,56.6], [60,40,20,0,-20,-40], {-50:"-50",-25:"-25",0:"0",28.5:"25",56.6:"50"})
for s in (A3_main, A3_r1, A3_r2, A3_r3, A3_r4): blob(a3, s, C_RED, 4)
for s in (A3_b1, A3_b2, A3_b3, A3_b4, A3_b5): blob(a3, s, C_BLU, 4)
specks(a3, A3_pts_red, C_RED); specks(a3, A3_pts_blue, C_BLU)

a4 = tsne((86,325,334,551), (-53.7,48.9), (-43.7,54), [-52.4,-28.8,0,25], [50,25,0,-25], {-52.4:"-50",-28.8:"-25",0:"0",25:"50"})
for s, c in [(A4_mono,S_OLV),(A4_b16,S_SAL),(A4_teal,S_TEAL),(A4_orange,S_ORG),(A4_tgreen,S_TG),(A4_gold,S_GOLD),(A4_green,S_GRN),(A4_blue,S_BLUE),(A4_peri,S_PERI),(A4_purple,S_PUR),(A4_mag,S_MAG)]:
    blob(a4, s, c, 3, .55)
for s, c in [(A4_pts_mono,S_OLV),(A4_pts_b16,S_SAL),(A4_pts_teal,S_TEAL),(A4_pts_orange,S_ORG),(A4_pts_tgreen,S_TG),(A4_pts_gold,S_GOLD),(A4_pts_green,S_GRN),(A4_pts_blue,S_BLUE),(A4_pts_peri,S_PERI),(A4_pts_purple,S_PUR),(A4_pts_mag,S_MAG)]:
    specks(a4, s, c)
for s in (A4_dash_mono, A4_dash_b16, A4_dash_cd8): dash(a4, s)
solid(a4, A4_solid)
lab(a4,"Mono/Φ",3.9,36.6); lab(a4,"B16",-33,11); lab(a4,"cells",-33.8,-1); lab(a4,"CD8+ T",13.6,-11); lab(a4,"cells",13.6,-23)

a5 = tsne((392,631,335,550), (-55,55.4), (-68.6,55), [-30,0,30], [51.8,26,0,-25,-50], None, {51.8:"50",26:"25",0:"0",-25:"-25",-50:"-50"})
for s, c in [(A5_b16,S_SAL),(A5_blue,S_BLUE),(A5_mono,S_TEAL),(A5_tgreen,S_TG),(A5_gold,S_GOLD),(A5_orange,S_ORG),(A5_green,S_GRN),(A5_pur1,S_PUR),(A5_pur2,S_MAG),(A5_pur3,S_PERI)]:
    blob(a5, s, c, 3, .55)
for s, c in [(A5_pts_b16,S_SAL),(A5_pts_blue,S_BLUE),(A5_pts_mono,S_TEAL),(A5_pts_tgreen,S_TG),(A5_pts_gold,S_GOLD),(A5_pts_orange,S_ORG),(A5_pts_green,S_GRN)]:
    specks(a5, s, c)
for s in (A5_dash_b16, A5_dash_cd8, A5_dash_mono): dash(a5, s)
lab(a5,"B16",-.6,38.6); lab(a5,"cells",-.6,23); lab(a5,"Mono/",37,13.6); lab(a5,"Φ",37,-2.3); lab(a5,"CD8+ T",-6.6,-10); lab(a5,"cells",-6,-26)

a6 = tsne((691,922,338,546), (-51.8,56.2), (-46.3,61), [-49.3,-23.3,0,26,51.6], [60,40,20,0,-20,-40], {-49.3:"-50",-23.3:"-25",0:"0",26:"25",51.6:"50"})
for s, c in [(A6_red,S_SAL),(A6_tgreen,S_TG),(A6_lime,"#7CAE00"),(A6_gold,S_GOLD),(A6_green,S_GRN),(A6_orange,S_ORG),(A6_teal,S_TEAL),(A6_blue,S_BLUE),(A6_peri,S_PERI),(A6_pur1,S_PUR),(A6_pur2,S_PUR)]:
    blob(a6, s, c, 3, .55)
for s, c in [(A6_pts_red,S_SAL),(A6_pts_tgreen,S_TG),(A6_pts_lime,"#7CAE00"),(A6_pts_gold,S_GOLD),(A6_pts_green,S_GRN),(A6_pts_orange,S_ORG),(A6_pts_teal,S_TEAL),(A6_pts_blue,S_BLUE),(A6_pts_peri,S_PERI)]:
    specks(a6, s, c)
for s in (A6_dash_cd8, A6_dash_mono, A6_dash_b16): dash(a6, s)
solid(a6, A6_solid)
lab(a6,"CD8+ T",1,15.7); lab(a6,"cells",1.5,1.6); lab(a6,"B16",-29,-30); lab(a6,"Mono/",38,-17); lab(a6,"Φ",35.6,-31.6)

b1 = tsne((1071,1296,102,315), (-52.8,50), (-53.3,57), [], [50,25,0,-25,-50], {})
blob(b1, B1_all, "#F8766D", 3, .16, .6)
blob(b1, B1_all, "#7CAE00", 5, .08, .6)
specks(b1, B1_pts_pink, "#F8766D"); specks(b1, B1_pts_green, "#7CAE00")
specks(b1, B1_pts_purple, "#C77CFF"); specks(b1, B1_pts_teal, "#00BFC4")

b2 = tsne((1073,1296,331,544), (-52,50), (-57,54), [-51,-25.4,1.5,23.5,47], [50,25,0,-25,-50], {-51:"-50",-25.4:"-25",1.5:"0",23.5:"25",47:"50"})
for s, c in [(B2_0,S_SAL),(B2_1,S_GOLD),(B2_2,S_BLUE),(B2_3,S_LIME),(B2_4,S_TG),(B2_pur,S_PERI)]:
    blob(b2, s, c, 3, .5)
for s, c in [(B2_pts_0,S_SAL),(B2_pts_1,S_GOLD),(B2_pts_2,S_BLUE),(B2_pts_3,S_LIME),(B2_pts_4,S_TG),(B2_pts_pur,S_PERI)]:
    specks(b2, s, c)
for s, x, y in [("2",-20.6,22.7),("4",6,28.5),("3",21.7,-1),("1",-26,-13),("0",11,-26)]:
    lab(b2, s, x, y, 30, "normal")

# ---------- Panel C bars ----------
c = fig(165, 1330, 667, 861, (-.507,4.5), (0,60), 5, 6)
for k, (vals, col) in enumerate(zip([wt_wo, wt_w, ko_wo, ko_w], ["#000091", "#2C5596", "#BC0000", "#FF7375"])):
    c.vbar(x=[i + (k-1.5)*.18 for i in range(5)], top=vals, bottom=0, width=.14, fill_color=col, line_color=None)
c.xaxis.visible = False; c.yaxis.visible = False; c.outline_line_color = None
c.segment([-.507], [0], [4.5], [0], line_color="black", line_width=4)
c.segment([-.507], [0], [-.507], [60], line_color="black", line_width=3)
for v, y in [("60",667),("40",732),("20",796),("0",861)]:
    T(v, 157, y, 25, align="right")

# ---------- colour mapper ----------
anchors = [(26,0,255),(106,79,255),(156,128,255),(207,191,255),(255,255,255),(255,208,187),(255,159,128),(251,100,64),(242,0,0)]
palette = []
for i in range(256):
    t = i/255*8; j = min(int(t), 7); f = t-j
    palette.append("#%02x%02x%02x" % tuple(round(anchors[j][n]*(1-f)+anchors[j+1][n]*f) for n in range(3)))
mapper = LinearColorMapper(palette=palette, low=-1, high=1)

def heat(left_px, right_px, top_px, bot_px, root_px, vals, genes, rows, tree):
    colw = (right_px-left_px)/5
    fl = root_px-2
    p = fig(fl, right_px, top_px, bot_px, (-(left_px-fl)/colw, 5), (20, 0), 4, 160, y_axis_location=None)
    p.outline_line_color = None
    xs, ys, vs = [], [], []
    for r, row in enumerate(vals):
        for k, v in enumerate(row):
            xs.append(k+.5); ys.append(r+.5); vs.append(v)
    src = dict(x=xs, y=ys, v=vs)
    p.rect("x", "y", 1, 1, source=src, fill_color=transform("v", mapper), line_color=transform("v", mapper), line_width=.4)
    p.segment([s[0] for s in tree], [s[1] for s in tree], [s[2] for s in tree], [s[3] for s in tree], line_color="#999999", line_width=2)
    p.xaxis.ticker = FixedTicker(ticks=[.5,1.5,2.5,3.5,4.5])
    p.xaxis.major_label_overrides = {.5+i: n for i, n in enumerate(conditions)}
    p.xaxis.major_label_orientation = "vertical"
    p.xaxis.major_label_text_font = FONT; p.xaxis.major_label_text_font_size = "26px"
    p.xaxis.major_label_text_color = "#111111"; p.xaxis.major_label_standoff = 6
    p.xaxis.axis_line_color = None; p.xaxis.major_tick_line_color = None; p.xaxis.minor_tick_line_color = None
    for g, r in zip(genes, rows):
        T(g, right_px+3, top_px + r*(bot_px-top_px)/20, 14, color="#444444", align="left")

rows20 = [i+.5 for i in range(20)]
heat(199,351,983,1293,166,D1_vals,D1_genes,rows20,D1_tree)
heat(445,592,981,1292,413,D2_vals,D2_genes,rows20,D2_tree)
heat(685,833,981,1290,655,D3_vals,D3_genes,rows20,D3_tree)
heat(925,1075,983,1290,887,D4_vals,D4_genes,rows20,D4_tree)
heat(1168,1317,983,1291,1138,D5_vals,D5_genes,D5_gene_rows,D5_tree)

# colour bar of panel D
bar_levels = [-1.18 + i*.02 for i in range(119)]
cb = fig(31, 56, 1172, 1293, (0,1), (-1.18,1.18), 5, 5, x_axis_location=None, y_axis_location=None)
cb.outline_line_color = None
cb.rect(x=[.5]*len(bar_levels), y=bar_levels, width=1, height=.024,
        fill_color=[palette[max(0,min(255,int((v+1)/2*255)))] for v in bar_levels], line_color=None)
bar_ticks = [1,.5,0,-.5,-1]
cb.segment([0]*5, bar_ticks, [.2]*5, bar_ticks, line_color="white", line_width=1.5)
cb.segment([.8]*5, bar_ticks, [1]*5, bar_ticks, line_color="white", line_width=1.5)
for v, s in zip(bar_ticks, ["1","0.5","0","−0.5","−1"]):
    T(s, 59, 1232.5 - v*121/2.36, 19, align="left")

# ---------- violins ----------
def violin(frame, x0_px, xstep, y0_px, ystep, yt, profile):
    l, r, t, b = frame
    p = fig(l, r, t, b, ((l-x0_px)/xstep, (r-x0_px)/xstep), ((y0_px-b)/ystep, (y0_px-t)/ystep), 4, 36)
    p.outline_line_color = None
    for k, prof in enumerate(profile):
        left = [k-w for _, w in prof]; right = [k+w for _, w in prof][::-1]
        ys = [y for y, _ in prof]
        flat = prof[1][1] == prof[0][1]
        p.patches([left+right], [ys+ys[::-1]], fill_color="#999999" if flat else VIOL[k],
                  line_color="#9A9A9A" if flat else "#777777", line_width=1.6 if flat else 1)
    p.xaxis.ticker = FixedTicker(ticks=[0,1,2,3,4]); p.yaxis.ticker = FixedTicker(ticks=yt)
    for a in (p.xaxis, p.yaxis):
        a.axis_line_color = "#8A8A8A"; a.axis_line_width = 2
        a.major_tick_line_color = "#8A8A8A"; a.major_tick_out = 3; a.major_tick_in = 0
        a.minor_tick_line_color = None
        a.major_label_text_font = FONT; a.major_label_text_font_size = "21px"; a.major_label_text_color = "#111111"
        a.major_label_standoff = 6

violin((133,349,1555,1746),158.5,41.3,1736,44,[0,1,2,3,4],Pdcd1)
violin((396,615,1557,1745),422,42,1736,63.2,[0,1,2],Cdkn2c)
violin((662,876,1557,1745),687.6,41.25,1736,61.6,[0,1,2],Mrpl42)
violin((921,1132,1562,1744),946,41,1735.5,50.3,[0,1,2,3],Sell)
violin((1176,1383,1559,1742),1200.4,40,1733.5,39.2,[0,1,2,3,4],Nfkbia)
violin((135,348,1821,2008),159,41,2001,46.7,[0,1,2,3],Cxcr6)
violin((398,617,1826,2008),423,42,2001,65.3,[0,1,2],Tpx2)
violin((666,878,1828,2008),690.4,40.9,2001,57.8,[0,1,2,3],Metap2)
violin((921,1128,1828,2008),945.4,39.85,2001,58,[0,1,2],Tcf7)
violin((1176,1383,1828,2010),1200.4,40,2002,49.3,[0,1,2,3],Dusp5)

root = Column(children=children, width=1370, height=2054, styles={"position": "relative"})
open("out.html", "w").write(file_html(root, INLINE))
